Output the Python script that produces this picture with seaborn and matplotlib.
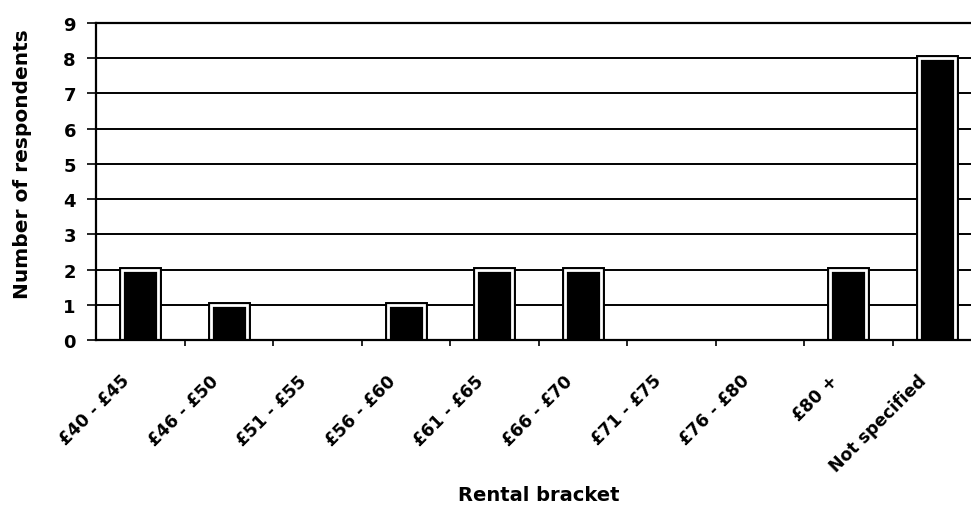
import matplotlib
matplotlib.use("Agg")
import matplotlib.pyplot as plt
import matplotlib.patheffects as pe
import matplotlib.transforms as mtransforms
import seaborn as sns
import pandas as pd

brackets = ["£40 - £45", "£46 - £50", "£51 - £55", "£56 - £60", "£61 - £65",
            "£66 - £70", "£71 - £75", "£76 - £80", "£80 +", "Not specified"]
respondents = [2, 1, 0, 1, 2, 2, 0, 0, 2, 8]
y_ticks = list(range(0, 10))

sns.set_theme(style="white")
plt.rcParams["font.family"] = ["DejaVu Sans"]
plt.rcParams["text.color"] = "black"
plt.rcParams["axes.labelcolor"] = "black"
plt.rcParams["xtick.color"] = "black"
plt.rcParams["ytick.color"] = "black"

df = pd.DataFrame({"bracket": brackets, "count": respondents})

fig = plt.figure(figsize=(9.71, 5.06), dpi=100)
ax = fig.add_axes([0.0989, 0.326, 0.9114, 0.6265])

sns.barplot(data=df, x="bracket", y="count", color="black", width=0.41,
            edgecolor="white", linewidth=2, saturation=1, ax=ax)
for bar in ax.patches:
    if bar.get_height() > 0:
        bar.set_path_effects([pe.Stroke(linewidth=5, foreground="black"), pe.Normal()])
    else:
        bar.set_visible(False)

ax.set_xlim(-0.5, len(brackets) - 0.5)
ax.set_ylim(0, 9)
ax.set_yticks(y_ticks)
ax.set_yticklabels([str(v) for v in y_ticks], fontsize=13, fontweight="bold",
                   color="black")
ax.yaxis.grid(True, color="black", linewidth=1.4)
ax.set_axisbelow(True)

# category ticks sit on the boundaries between brackets
ax.set_xticks([i + 0.5 for i in range(len(brackets) - 1)], minor=True)
ax.set_xticks(range(len(brackets)))
ax.set_xticklabels([])
ax.tick_params(axis="x", which="major", length=0, bottom=True)
ax.tick_params(axis="x", which="minor", length=4.3, width=1.2, color="black",
               direction="out", bottom=True)
ax.tick_params(axis="y", length=6.5, width=1.2, color="black", direction="out",
               pad=8, left=True)

# slanted bracket names, hung just left of each category centre
base = mtransforms.blended_transform_factory(ax.transData, ax.transAxes)
offset = mtransforms.ScaledTranslation(-13 / 100, -37.5 / 100, fig.dpi_scale_trans)
for i, name in enumerate(brackets):
    ax.text(i, 0, name, transform=base + offset, rotation=45, ha="right",
            va="center", rotation_mode="anchor", fontsize=12.4,
            fontweight="bold", color="black", clip_on=False)

for side in ["left", "bottom", "top"]:
    ax.spines[side].set_color("black")
    ax.spines[side].set_linewidth(1.6)
ax.spines["right"].set_visible(False)

ax.set_xlabel("Rental bracket", fontsize=14, fontweight="bold", color="black")
ax.set_ylabel("Number of respondents", fontsize=14.5, fontweight="bold", color="black")
ax.xaxis.set_label_coords(0.5, -0.486)
ax.yaxis.set_label_coords(-0.0836, 0.558)
ax.xaxis.label.set_va("center")
ax.yaxis.label.set_va("center")

fig.savefig("out.png", dpi=100)
